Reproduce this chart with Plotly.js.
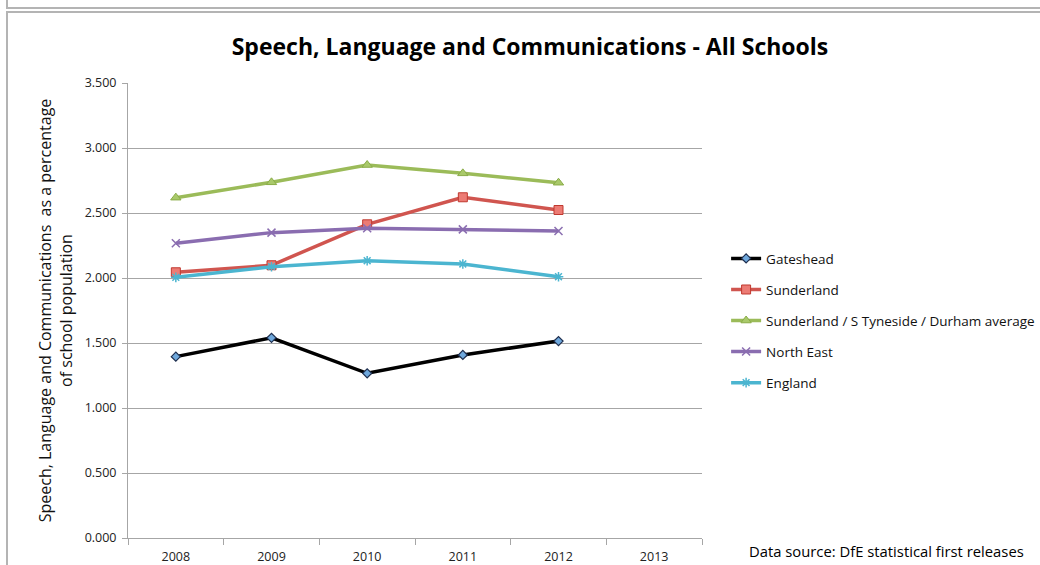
<!DOCTYPE html>
<html>
<head>
<meta charset="utf-8">
<script src="https://cdn.plot.ly/plotly-3.0.1.min.js"></script>
<style>
  html, body { margin:0; padding:0; background:#fff; }
  #wrap { position:relative; width:1040px; height:565px; overflow:hidden; }
  #f1 { position:absolute; left:6px; top:-2px; width:1040px; height:9px; border-left:2px solid #b4b4b4; border-bottom:2px solid #b4b4b4; }
  #f2 { position:absolute; left:6px; top:11px; width:1040px; height:600px; border-left:2px solid #b4b4b4; border-top:2px solid #b4b4b4; }
  #chart { position:absolute; left:0; top:0; width:1040px; height:565px; }
</style>
</head>
<body>
<div id="wrap">
  <div id="f1"></div>
  <div id="f2"></div>
  <div id="chart"></div>
</div>
<script>
const years = ['2008', '2009', '2010', '2011', '2012', '2013'];
const gateshead = [1.395, 1.540, 1.267, 1.408, 1.515, null];
const sunderland = [2.044, 2.098, 2.413, 2.621, 2.523, null];
const stdAverage = [2.618, 2.736, 2.869, 2.805, 2.733, null];
const northEast = [2.267, 2.349, 2.382, 2.374, 2.362, null];
const england = [2.005, 2.087, 2.133, 2.108, 2.010, null];
const seriesNames = ['Gateshead', 'Sunderland', 'Sunderland / S Tyneside / Durham average', 'North East', 'England'];
const yTicks = [0, 0.5, 1, 1.5, 2, 2.5, 3, 3.5];

const styles = [
  {line:{color:'#000000', width:3.5}, marker:{symbol:'diamond', size:7, color:'#6fa8dc', line:{color:'#1f2f4f', width:1.2}}},
  {line:{color:'#d0554f', width:3.5}, marker:{symbol:'square', size:9, color:'#ec7b74', line:{color:'#c0392f', width:1}}},
  {line:{color:'#9bbb59', width:3.5}, marker:{symbol:'triangle-up', size:9, color:'#a9c96a', line:{color:'#8aac48', width:1}}},
  {line:{color:'#8a6db0', width:3.5}, marker:{symbol:'x-thin', size:8, color:'#8a6db0', line:{color:'#8a6db0', width:1.5}}},
  {line:{color:'#4bb5d0', width:3.5}, marker:{symbol:'asterisk', size:8, color:'#4bb5d0', line:{color:'#4bb5d0', width:1.5}}}
];
const values = [gateshead, sunderland, stdAverage, northEast, england];

const traces = values.map((v, i) => ({
  type:'scatter', mode:'lines+markers',
  x: years, y: v, name: seriesNames[i],
  legendgroup: 'g' + i,
  line: styles[i].line, marker: styles[i].marker,
  connectgaps:false
}));

const font = 'Open Sans, Liberation Sans, sans-serif';
const layout = {
  width:1040, height:565,
  paper_bgcolor:'rgba(0,0,0,0)', plot_bgcolor:'rgba(0,0,0,0)',
  margin:{l:128, r:338, t:83, b:27, pad:0, autoexpand:false},
  font:{family:font, color:'#222', size:12},
  title:{text:'<b>Speech, Language and Communications - All Schools</b>', font:{family:font, size:23, color:'#000'},
         x:0.5096, xanchor:'center', xref:'container', y:0.917, yanchor:'middle', yref:'container'},
  xaxis:{type:'category', categoryorder:'array', categoryarray:years, range:[-0.5, 5.5],
         showgrid:false, showline:true, linecolor:'#a6a6a6', linewidth:1,
         ticks:'outside', tickson:'boundaries', ticklen:6, tickcolor:'#a6a6a6',
         ticklabelstandoff:7,
         tickfont:{size:12.5, color:'#222'}, zeroline:false, fixedrange:true},
  yaxis:{range:[0, 3.5], tickvals:yTicks, tickformat:'.3f',
         showgrid:true, gridcolor:'#a6a6a6', gridwidth:1,
         showline:true, linecolor:'#a6a6a6', linewidth:1,
         ticks:'outside', ticklen:5, tickcolor:'#a6a6a6', zeroline:false,
         ticklabelstandoff:3,
         tickfont:{size:12.5, color:'#222'},
         title:{text:'Speech, Language and Communications  as a percentage<br>of school population', font:{size:16, color:'#111'}, standoff:8},
         fixedrange:true},
  showlegend:true,
  legend:{x:1.042, xanchor:'left', y:0.648, yanchor:'top', bgcolor:'rgba(0,0,0,0)',
          font:{size:13.5, color:'#111'}, tracegroupgap:10.5, itemwidth:30, traceorder:'grouped'},
  annotations:[{text:'Data source: DfE statistical first releases', xref:'paper', yref:'paper',
    x:(1026-128)/574, xanchor:'right', y:(538-551)/455, yanchor:'middle', showarrow:false,
    font:{size:14.8, color:'#000'}}]
};
Plotly.newPlot('chart', traces, layout, {displayModeBar:false, staticPlot:true});
</script>
</body>
</html>
